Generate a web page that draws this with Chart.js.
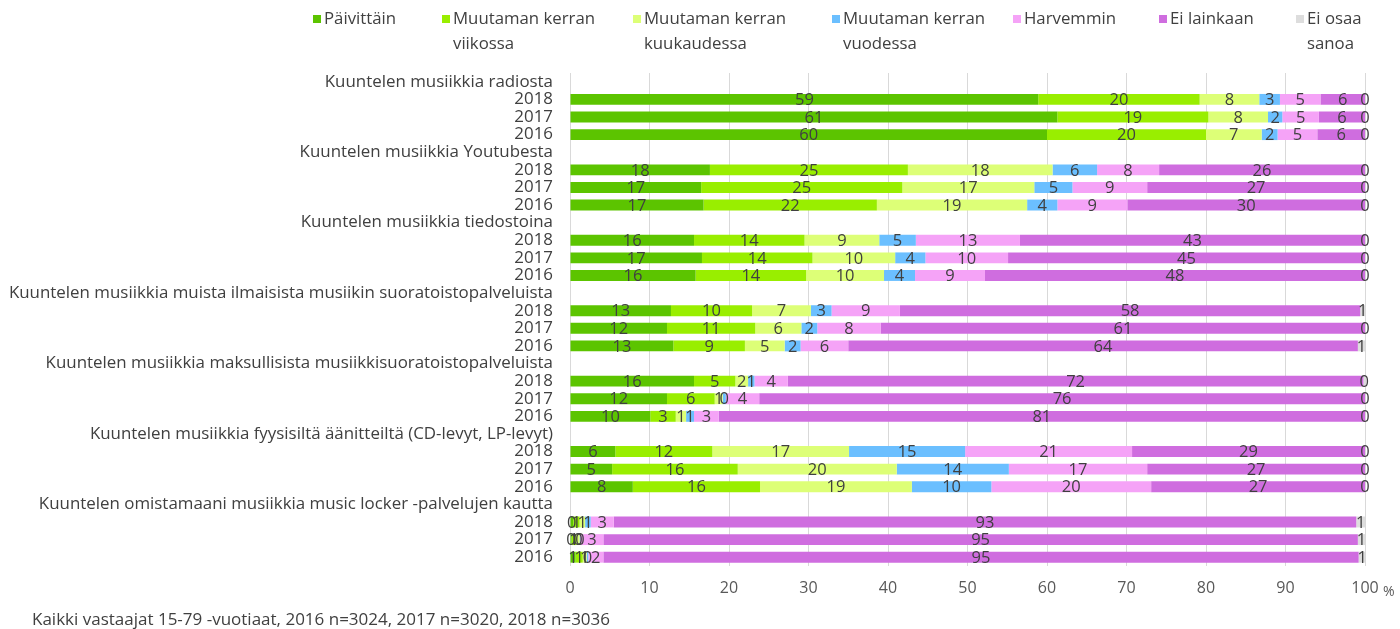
<!DOCTYPE html>
<html><head><meta charset="utf-8">
<script src="https://cdn.jsdelivr.net/npm/chart.js@4.4.1/dist/chart.umd.min.js"></script>
<style>html,body{margin:0;padding:0;background:#fff;}#wrap{width:1400px;height:629px;position:relative;}</style>
</head><body><div id="wrap"><canvas id="c" width="1400" height="629"></canvas></div>
<script>
const groups = [
  'Kuuntelen musiikkia radiosta',
  'Kuuntelen musiikkia Youtubesta',
  'Kuuntelen musiikkia tiedostoina',
  'Kuuntelen musiikkia muista ilmaisista musiikin suoratoistopalveluista',
  'Kuuntelen musiikkia maksullisista musiikkisuoratoistopalveluista',
  'Kuuntelen musiikkia fyysisiltä äänitteiltä (CD-levyt, LP-levyt)',
  'Kuuntelen omistamaani musiikkia music locker -palvelujen kautta'
];
const years = ['2018', '2017', '2016'];
const seriesNames = [
  ['Päivittäin'],
  ['Muutaman kerran', 'viikossa'],
  ['Muutaman kerran', 'kuukaudessa'],
  ['Muutaman kerran', 'vuodessa'],
  ['Harvemmin'],
  ['Ei lainkaan'],
  ['Ei osaa', 'sanoa']
];
// values per group in order 2018, 2017, 2016
const paivittain  = [58.9, 61.3, 60.0, 17.6, 16.5, 16.8, 15.6, 16.6, 15.8, 12.7, 12.2, 13.0, 15.6, 12.2, 10.1, 5.7, 5.3, 7.9, 0.4, 0.2, 0.7];
const viikossa    = [20.3, 19.0, 20.0, 24.9, 25.3, 21.8, 13.9, 13.9, 13.9, 10.2, 11.1, 9.0, 5.2, 6.0, 3.2, 12.2, 15.8, 16.0, 0.8, 0.6, 0.9];
const kuukaudessa = [7.5, 7.5, 7.0, 18.2, 16.6, 18.9, 9.4, 10.4, 9.8, 7.4, 5.8, 5.0, 1.6, 1.0, 1.3, 17.2, 20.0, 19.1, 0.7, 0.4, 0.5];
const vuodessa    = [2.6, 1.8, 2.0, 5.6, 4.8, 3.8, 4.6, 3.8, 3.9, 2.6, 2.0, 2.0, 0.8, 0.4, 1.0, 14.6, 14.1, 10.0, 0.7, 0.1, 0.2];
const harvemmin   = [5.1, 4.6, 5.0, 7.8, 9.4, 8.8, 13.1, 10.4, 8.8, 8.6, 8.0, 6.0, 4.2, 4.2, 3.1, 21.0, 17.4, 20.1, 2.9, 2.9, 1.9];
const eiLainkaan  = [5.6, 5.8, 6.0, 25.9, 27.4, 29.9, 43.4, 44.9, 47.8, 57.9, 60.9, 64.1, 72.4, 76.2, 81.3, 29.3, 27.4, 26.9, 93.4, 94.9, 95.0];
const eiOsaa      = [0, 0, 0, 0, 0, 0, 0, 0, 0, 0.6, 0, 0.9, 0.2, 0, 0, 0, 0, 0, 1.1, 0.9, 0.9];
const xTicks = [0, 10, 20, 30, 40, 50, 60, 70, 80, 90, 100];
const unitLabel = '%';
const footnote = 'Kaikki vastaajat 15-79 -vuotiaat, 2016 n=3024, 2017 n=3020, 2018 n=3036';

const FONT = "'Open Sans', 'Noto Sans', sans-serif";
const series = [paivittain, viikossa, kuukaudessa, vuodessa, harvemmin, eiLainkaan, eiOsaa];
const colors = ['#5cc400', '#99ee00', '#ddff77', '#6bbfff', '#f5a3f7', '#cf6ddf', '#dddddd'];

const rowLabels = [];
groups.forEach(g => { rowLabels.push(g); years.forEach(y => rowLabels.push(y)); });
function expand(arr) {
  const out = [];
  groups.forEach((g, gi) => { out.push(null); for (let k = 0; k < years.length; k++) out.push(arr[gi * years.length + k]); });
  return out;
}

const legendX = [313, 442, 633, 832, 1013, 1159, 1296];
const customLegend = {
  id: 'customLegend',
  afterDraw(chart) {
    const ctx = chart.ctx;
    ctx.save();
    ctx.font = '16.8px ' + FONT;
    ctx.textBaseline = 'middle';
    ctx.textAlign = 'left';
    chart.data.datasets.forEach((ds, i) => {
      const x = legendX[i];
      ctx.fillStyle = ds.backgroundColor;
      ctx.fillRect(x, 15, 8, 8);
      ctx.fillStyle = '#404040';
      seriesNames[i].forEach((line, li) => ctx.fillText(line, x + 11, 19 + li * 25));
    });
    ctx.restore();
  }
};
const valueLabels = {
  id: 'valueLabels',
  afterDatasetsDraw(chart) {
    const ctx = chart.ctx;
    ctx.save();
    ctx.font = '16.5px ' + FONT;
    ctx.fillStyle = '#404040';
    ctx.textAlign = 'center';
    ctx.textBaseline = 'middle';
    chart.data.datasets.forEach((ds, i) => {
      const meta = chart.getDatasetMeta(i);
      meta.data.forEach((el, j) => {
        const v = ds.data[j];
        if (v === null || v === undefined) return;
        const p = el.getProps(['x', 'y', 'base'], true);
        ctx.fillText(String(Math.round(v)), (p.x + p.base) / 2, p.y + 1);
      });
    });
    ctx.restore();
  }
};
const extras = {
  id: 'extras',
  afterDraw(chart) {
    const ctx = chart.ctx;
    const xs = chart.scales.x;
    ctx.save();
    ctx.fillStyle = '#595959';
    ctx.font = '14px ' + FONT;
    ctx.textAlign = 'left';
    ctx.textBaseline = 'middle';
    ctx.fillText(unitLabel, xs.getPixelForValue(100) + 18, 592);
    ctx.fillStyle = '#404040';
    ctx.font = '17px ' + FONT;
    ctx.fillText(footnote, 32, 620);
    ctx.restore();
  }
};

new Chart(document.getElementById('c'), {
  type: 'bar',
  data: {
    labels: rowLabels,
    datasets: series.map((s, i) => ({
      label: seriesNames[i].join(' '),
      data: expand(s),
      backgroundColor: colors[i],
      borderWidth: 0,
      barPercentage: 0.62,
      categoryPercentage: 1.0
    }))
  },
  options: {
    responsive: false,
    animation: false,
    indexAxis: 'y',
    layout: { padding: { top: 73, right: 35, left: 0, bottom: 0 } },
    plugins: { legend: { display: false }, tooltip: { enabled: false }, title: { display: false } },
    scales: {
      x: {
        stacked: true, min: 0, max: 100,
        afterBuildTicks: s => { s.ticks = xTicks.map(v => ({ value: v })); },
        grid: { color: '#d9d9d9', drawTicks: false, lineWidth: 1 },
        border: { display: false },
        ticks: { color: '#595959', font: { family: FONT, size: 16 }, padding: 13, maxRotation: 0, autoSkip: false },
        afterFit: s => { s.height = 63; }
      },
      y: {
        stacked: true,
        grid: { display: false },
        border: { display: false },
        ticks: { color: '#404040', font: { family: FONT, size: 16.9 }, autoSkip: false, padding: 9 },
        afterFit: s => { s.width = 570; }
      }
    }
  },
  plugins: [customLegend, valueLabels, extras]
});
</script>
</body></html>
